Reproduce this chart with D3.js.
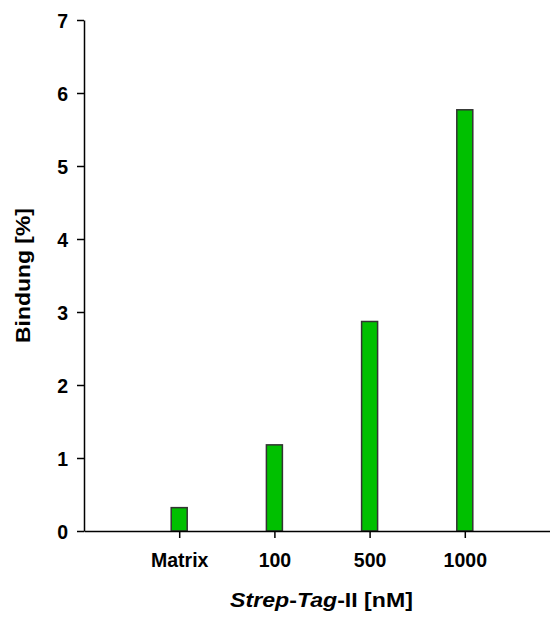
<!DOCTYPE html>
<html>
<head>
<meta charset="utf-8">
<script src="https://cdn.jsdelivr.net/npm/d3@7"></script>
<style>
  body { margin: 0; background: #fff; }
  svg { display: block; font-family: "Liberation Sans", Arial, sans-serif; }
</style>
</head>
<body>
<div id="grafico"></div>
<script>
// Daten
const kategorien = ["Matrix", "100", "500", "1000"];
const bindung = [0.32, 1.18, 2.87, 5.77];
const yTicks = [0, 1, 2, 3, 4, 5, 6, 7];

const breite = 550, hoehe = 617;
const links = 84, unten = 531, oben = 20, rechts = 560;

const $svg = d3.select("#grafico")
    .append("svg")
    .attr("width", breite)
    .attr("height", hoehe);

const x = d3.scalePoint()
    .domain(kategorien)
    .range([links, rechts])
    .padding(1);

const y = d3.scaleLinear()
    .domain([0, 7])
    .range([unten, oben]);

// Balken
$svg.append("g")
    .selectAll("rect")
    .data(kategorien)
    .join("rect")
    .attr("x", d => x(d) - 8)
    .attr("width", 16)
    .attr("y", (d, i) => y(bindung[i]))
    .attr("height", (d, i) => y(0) - y(bindung[i]))
    .attr("fill", "#00c000")
    .attr("stroke", "#333")
    .attr("stroke-width", 1.5);

// Achsen
const yAchse = $svg.append("g")
    .attr("transform", `translate(${links},0)`)
    .call(d3.axisLeft(y).tickValues(yTicks).tickFormat(d3.format("d"))
        .tickSize(7).tickSizeOuter(0).tickPadding(9));

const xAchse = $svg.append("g")
    .attr("transform", `translate(0,${unten})`)
    .call(d3.axisBottom(x).tickSize(7).tickSizeOuter(0).tickPadding(15));

[yAchse, xAchse].forEach(a => {
    a.selectAll("path, line").attr("stroke", "#000").attr("stroke-width", 1.5);
    a.selectAll("text")
        .attr("fill", "#000")
        .attr("font-size", 19.5)
        .attr("font-weight", "bold")
        .attr("font-family", "Liberation Sans, Arial, sans-serif");
});
yAchse.selectAll("text").attr("dy", "0.36em");

// Achsentitel
const yTitel = $svg.append("text")
    .attr("font-size", 20)
    .attr("font-weight", "bold")
    .attr("text-anchor", "middle")
    .text("Bindung [%]");
const yLen = yTitel.node().getComputedTextLength();
yTitel.attr("transform", `translate(29.5,275.5) rotate(-90) scale(${135 / yLen},1)`);

const xTitel = $svg.append("text")
    .attr("font-size", 19.5)
    .attr("font-weight", "bold")
    .attr("text-anchor", "middle");
xTitel.append("tspan").attr("font-style", "italic").text("Strep");
xTitel.append("tspan").text("-");
xTitel.append("tspan").attr("font-style", "italic").text("Tag");
xTitel.append("tspan").text("-II [nM]");
const xLen = xTitel.node().getComputedTextLength();
xTitel.attr("transform", `translate(321.5,607) scale(${183 / xLen},1)`);
</script>
</body>
</html>
